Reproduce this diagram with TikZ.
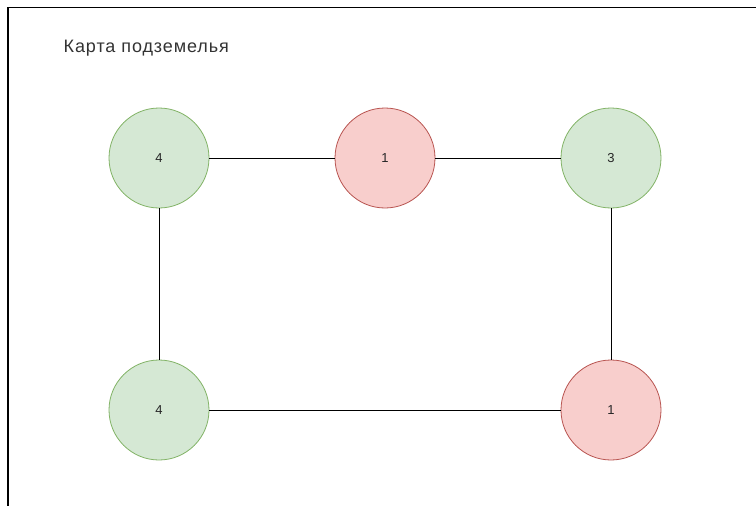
\documentclass[tikz,border=0pt]{standalone}
\usepackage{fontspec}
\setmainfont{Liberation Sans}
\definecolor{gfill}{HTML}{D5E8D4}
\definecolor{gline}{HTML}{82B366}
\definecolor{rfill}{HTML}{F8CECC}
\definecolor{rline}{HTML}{B85450}
\tikzset{
  room/.style={circle, minimum size=100pt, inner sep=0pt, line width=0.8pt, font=\fontsize{13pt}{15pt}\selectfont, text=black!85},
  groom/.style={room, draw=gline, fill=gfill},
  rroom/.style={room, draw=rline, fill=rfill},
  link/.style={draw=black, line width=1pt},
  frame/.style={draw=black, line width=1.5pt}
}
\begin{document}
\begin{tikzpicture}[x=1pt,y=-1pt]
\useasboundingbox (0,0) rectangle (756,506);
\coordinate (fa) at (8,506);
\coordinate (fb) at (8,7.5);
\coordinate (fc) at (756,7.5);
\draw[frame] (fa) -- (fb) -- (fc);
\node[anchor=base west, inner sep=0pt, font=\fontsize{18pt}{20pt}\selectfont\addfontfeatures{LetterSpace=5}, text=black!80] (title) at (63.5,52.7) {Карта подземелья};
\node[groom] (a) at (159,158) {4};
\node[rroom] (b) at (385,158) {1};
\node[groom] (c) at (611,158) {3};
\node[groom] (d) at (159,410) {4};
\node[rroom] (e) at (611,410) {1};
\draw[link] (a) -- (b);
\draw[link] (b) -- (c);
\draw[link] (a) -- (d);
\draw[link] (c) -- (e);
\draw[link] (d) -- (e);
\end{tikzpicture}
\end{document}
